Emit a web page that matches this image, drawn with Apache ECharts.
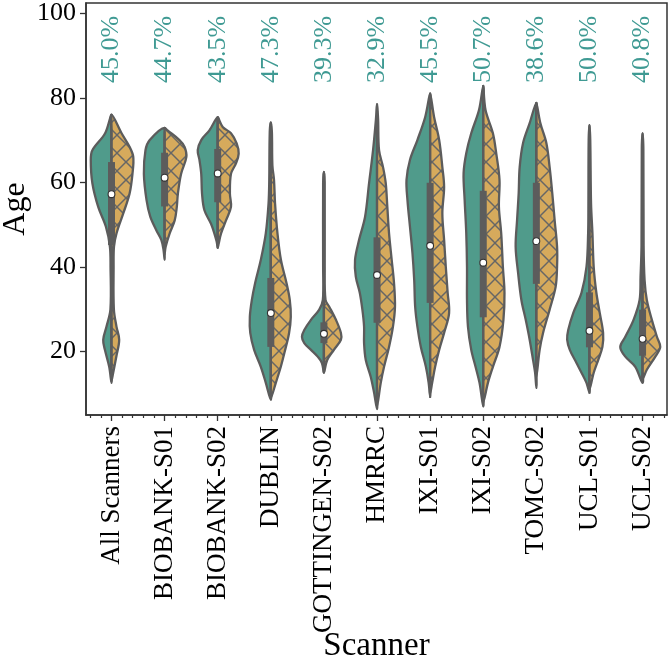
<!DOCTYPE html>
<html><head><meta charset="utf-8">
<script src="https://cdn.jsdelivr.net/npm/echarts@6/dist/echarts.min.js"></script>
<style>html,body{margin:0;padding:0;background:#fff}#c{width:672px;height:664px}</style>
</head><body><div id="c"></div>
<script>
const scanners = ['All Scanners','BIOBANK-S01','BIOBANK-S02','DUBLIN','GOTTINGEN-S02','HMRRC','IXI-S01','IXI-S02','TOMC-S02','UCL-S01','UCL-S02'];
const pctLabels = ['45.0%','44.7%','43.5%','47.3%','39.3%','32.9%','45.5%','50.7%','38.6%','50.0%','40.8%'];
const medians = [57.2, 61.1, 62.1, 29.1, 24.2, 38.1, 45.0, 41.0, 46.1, 24.9, 23.0];
const q1 = [45.2, 54.3, 55.3, 21.1, 22.0, 26.8, 31.5, 28.1, 36.0, 21.0, 19.0];
const q3 = [64.8, 67.0, 67.9, 37.4, 26.9, 47.0, 59.9, 58.0, 59.9, 34.0, 29.9];
const whiskerLow = [16, 46, 47, 9, 15, 7, 9, 7, 12, 10, 13];
const whiskerHigh = [76, 72, 75, 61, 34, 77, 81, 83, 79, 53, 46];
const yTicks = [20, 40, 60, 80, 100];
// density half-widths: [age, half-width as fraction of category spacing]
const leftProfiles = [
  [[76,0],[71.6,.12],[67.6,.36],[65.3,.39],[59.8,.36],[54.2,.25],[49.5,.105],[44.8,.03],[40,.018],[30,.02],[25.9,.094],[22.8,.156],[20.4,.124],[16.4,.043],[12.6,0]],
  [[72.9,0],[70,.28],[67.6,.36],[62,.39],[55.8,.34],[51.9,.27],[48.7,.156],[46.4,.062],[44,.02],[41.7,0]],
  [[75.4,0],[72.3,.156],[70,.31],[67.6,.376],[65.3,.344],[62,.31],[57.3,.295],[53.4,.25],[50.2,.126],[47.9,.062],[46,.02],[44.5,0]],
  [[74.2,0],[72,.02],[60,.03],[55,.043],[48,.094],[41.7,.188],[36.2,.295],[32.2,.357],[28.2,.395],[24.4,.387],[20.4,.314],[16.4,.188],[12.6,.094],[8.6,0]],
  [[62.5,0],[60,.015],[40,.015],[32.2,.02],[29.9,.088],[27.5,.244],[25.1,.37],[23.5,.414],[22,.37],[20.4,.244],[18.8,.118],[17.3,.038],[15,0]],
  [[78.5,0],[75,.02],[67.6,.075],[59.8,.15],[51.8,.226],[46.4,.338],[41.7,.414],[37.7,.40],[33.9,.325],[29.9,.276],[25.9,.244],[22,.244],[18,.212],[14,.118],[10.3,.056],[6.4,0]],
  [[81,0],[75.4,.094],[70,.24],[65.3,.38],[60.6,.445],[55.8,.427],[49.5,.38],[43.3,.333],[36.9,.30],[30.6,.282],[25.9,.24],[21.1,.175],[16.4,.08],[12.6,.028],[9.3,0]],
  [[82.8,0],[77.1,.08],[71.6,.226],[66.9,.32],[62.2,.37],[55.8,.35],[48,.32],[40,.306],[32.2,.306],[25.9,.288],[20.4,.226],[16.4,.145],[12.6,.07],[7,0]],
  [[78.8,0],[74,.126],[69.3,.25],[63.6,.314],[57.4,.333],[51.1,.363],[44.8,.39],[38.6,.344],[32.2,.282],[27.5,.2],[22.8,.126],[18,.062],[15,.024],[11.4,0]],
  [[73.5,0],[70,.015],[55,.02],[48,.025],[40,.056],[33.9,.15],[29.1,.306],[25.1,.40],[22.8,.42],[20.4,.37],[17.3,.244],[15,.15],[12.6,.056],[10.3,0]],
  [[71.6,0],[68,.015],[45,.02],[37.7,.038],[32.2,.056],[27.5,.17],[23.5,.325],[21.1,.42],[18.8,.325],[16.4,.137],[12.6,0]]
];
const rightProfiles = [
  [[76,0],[71.6,.19],[68.4,.34],[66,.41],[62,.395],[57.3,.34],[52.6,.22],[47.9,.094],[44.8,.047],[40,.04],[30,.045],[25.9,.094],[22.8,.145],[19,.094],[15,.032],[13,0]],
  [[72.9,0],[72.3,.056],[70,.28],[68.4,.376],[66,.41],[62,.31],[57.3,.25],[54.2,.23],[51,.19],[47.9,.094],[44.8,.02],[43,0]],
  [[75.4,0],[73.1,.094],[71.6,.25],[69.2,.357],[66.8,.395],[64.5,.344],[62,.25],[57.3,.23],[54.2,.25],[51,.156],[47.9,.062],[45.6,.02],[44.5,0]],
  [[74.2,0],[72,.02],[64,.03],[60.6,.06],[55,.08],[48,.125],[41.7,.19],[36.2,.295],[32.2,.357],[28.2,.376],[24.4,.344],[20.4,.27],[16.4,.188],[12.6,.094],[9,0]],
  [[62.5,0],[60,.015],[40,.015],[32.2,.03],[30.6,.1],[27.5,.226],[24.4,.32],[22.8,.32],[20.4,.188],[18,.062],[15,0]],
  [[78.5,0],[75,.02],[67.6,.038],[63.6,.113],[59.8,.164],[54.2,.194],[48,.226],[41.7,.276],[36.2,.32],[30.6,.338],[25.9,.30],[21.1,.226],[16.4,.132],[12.6,.07],[7,0]],
  [[81,0],[75.4,.075],[70,.17],[63.6,.23],[58.9,.263],[52.7,.23],[46.4,.263],[40,.295],[33.9,.33],[29.1,.357],[24.4,.263],[20.4,.17],[16.4,.094],[12.6,.038],[10,0]],
  [[82.8,0],[77.1,.043],[71.6,.182],[66.9,.244],[60.6,.306],[54.2,.295],[48,.338],[40,.37],[33.9,.40],[27.5,.38],[21.1,.306],[16.4,.182],[12.6,.088],[8,0]],
  [[78.8,0],[74,.075],[69.3,.188],[63.6,.25],[57.4,.30],[51.1,.344],[44.8,.39],[40,.39],[35.3,.363],[29.9,.25],[24.4,.126],[20.4,.062],[14,0]],
  [[73.5,0],[70,.015],[55,.03],[48,.056],[40,.08],[33.9,.13],[29.1,.194],[24.4,.257],[21.1,.244],[18,.164],[15,.08],[11,0]],
  [[71.6,0],[68,.015],[45,.02],[36.9,.038],[32.2,.08],[27.5,.175],[23.5,.27],[21.1,.333],[18.8,.24],[15.7,.08],[13.5,0]]
];

const TEAL = '#509b8b', ORANGE = '#d6aa5c', EDGE = '#5c5c5c', LABEL = '#3f9a93';
const SERIF = '"Liberation Serif", "Times New Roman", serif';

function makeHatch() {
  const N = 18, c = document.createElement('canvas');
  c.width = N; c.height = N;
  const g = c.getContext('2d');
  g.fillStyle = ORANGE; g.fillRect(0, 0, N, N);
  g.strokeStyle = '#666'; g.lineWidth = 1.5;
  for (const k of [-N, 0, N]) {
    g.beginPath(); g.moveTo(k - 2, -2); g.lineTo(k + N + 2, N + 2); g.stroke();
    g.beginPath(); g.moveTo(k - 2, N + 2); g.lineTo(k + N + 2, -2); g.stroke();
  }
  return c;
}
const hatch = makeHatch();

function halfPolygon(api, idx, prof, side, cx, catW) {
  const pts = prof.map(p => [cx + side * p[1] * catW, api.coord([idx, p[0]])[1]]);
  for (let i = prof.length - 2; i >= 1; i--) pts.push([cx, api.coord([idx, prof[i][0]])[1]]);
  return pts;
}

function renderItem(params, api) {
  const idx = api.value(0);
  const cx = api.coord([idx, 0])[0];
  const catW = api.size([1, 0])[0];
  const Y = a => api.coord([idx, a])[1];
  const L = halfPolygon(api, idx, leftProfiles[idx], -1, cx, catW);
  const R = halfPolygon(api, idx, rightProfiles[idx], 1, cx, catW);
  return {
    type: 'group',
    children: [
      { type: 'polygon', shape: { points: L, smooth: 0.35 }, style: { fill: TEAL, stroke: EDGE, lineWidth: 2.3, lineJoin: 'round' } },
      { type: 'polygon', shape: { points: R, smooth: 0.35 }, style: { fill: { image: hatch, repeat: 'repeat' }, stroke: EDGE, lineWidth: 2.3, lineJoin: 'round' } },
      { type: 'line', shape: { x1: cx, y1: Y(whiskerLow[idx]), x2: cx, y2: Y(whiskerHigh[idx]) }, style: { stroke: EDGE, lineWidth: 2 } },
      { type: 'rect', shape: { x: cx - 3.5, y: Y(q3[idx]), width: 7, height: Y(q1[idx]) - Y(q3[idx]) }, style: { fill: EDGE } },
      { type: 'circle', shape: { cx: cx, cy: Y(medians[idx]), r: 3.4 }, style: { fill: '#fff', stroke: '#333', lineWidth: 1.1 } },
      { type: 'text', x: cx, y: Y(83.5), rotation: Math.PI / 2,
        style: { text: pctLabels[idx], fill: LABEL, font: '26px ' + SERIF, align: 'left', verticalAlign: 'middle' } }
    ]
  };
}

const majorX = scanners.map((s, i) => i);
const minorX = [];
for (let k = -2; k <= 52; k++) if (k % 5 !== 0) minorX.push(k / 5);

const chart = echarts.init(document.getElementById('c'), null, { renderer: 'canvas' });
chart.setOption({
  animation: false,
  backgroundColor: '#fff',
  grid: { left: 86, right: 5, top: 3, bottom: 249, show: true, borderColor: '#333', borderWidth: 1.5,
          outerBoundsMode: 'none', containLabel: false },
  xAxis: [
    {
      type: 'value', min: -0.48, max: 10.46,
      axisLine: { show: true, onZero: false, lineStyle: { color: '#333', width: 1.5 } },
      axisTick: { show: true, customValues: majorX, length: 6, lineStyle: { color: '#333', width: 1.3 } },
      axisLabel: { customValues: majorX, rotate: 90, margin: 11, color: '#000', fontFamily: SERIF, fontSize: 27,
                   formatter: v => scanners[Math.round(v)] },
      splitLine: { show: false },
      name: 'Scanner', nameLocation: 'middle', nameGap: 215, nameMoveOverlap: false,
      nameTextStyle: { fontFamily: SERIF, fontSize: 33, color: '#000' }
    },
    {
      type: 'value', min: -0.48, max: 10.46, position: 'bottom',
      axisLine: { show: false, onZero: false },
      axisTick: { show: true, customValues: minorX, length: 3, lineStyle: { color: '#333', width: 1.2 } },
      axisLabel: { show: false },
      splitLine: { show: false }
    }
  ],
  yAxis: {
    type: 'value', min: 5, max: 102.4,
    axisLine: { show: true, onZero: false, lineStyle: { color: '#333', width: 1.5 } },
    axisTick: { show: true, customValues: yTicks, length: 6, lineStyle: { color: '#333', width: 1.3 } },
    axisLabel: { customValues: yTicks, margin: 10, color: '#000', fontFamily: SERIF, fontSize: 26 },
    splitLine: { show: false },
    name: 'Age', nameLocation: 'middle', nameGap: 54, nameMoveOverlap: false,
    nameTextStyle: { fontFamily: SERIF, fontSize: 32, color: '#000' }
  },
  series: [{
    type: 'custom',
    xAxisIndex: 0,
    renderItem: renderItem,
    data: scanners.map((s, i) => [i, medians[i]]),
    encode: { x: 0, y: 1 },
    clip: false
  }]
});
</script>
</body></html>
